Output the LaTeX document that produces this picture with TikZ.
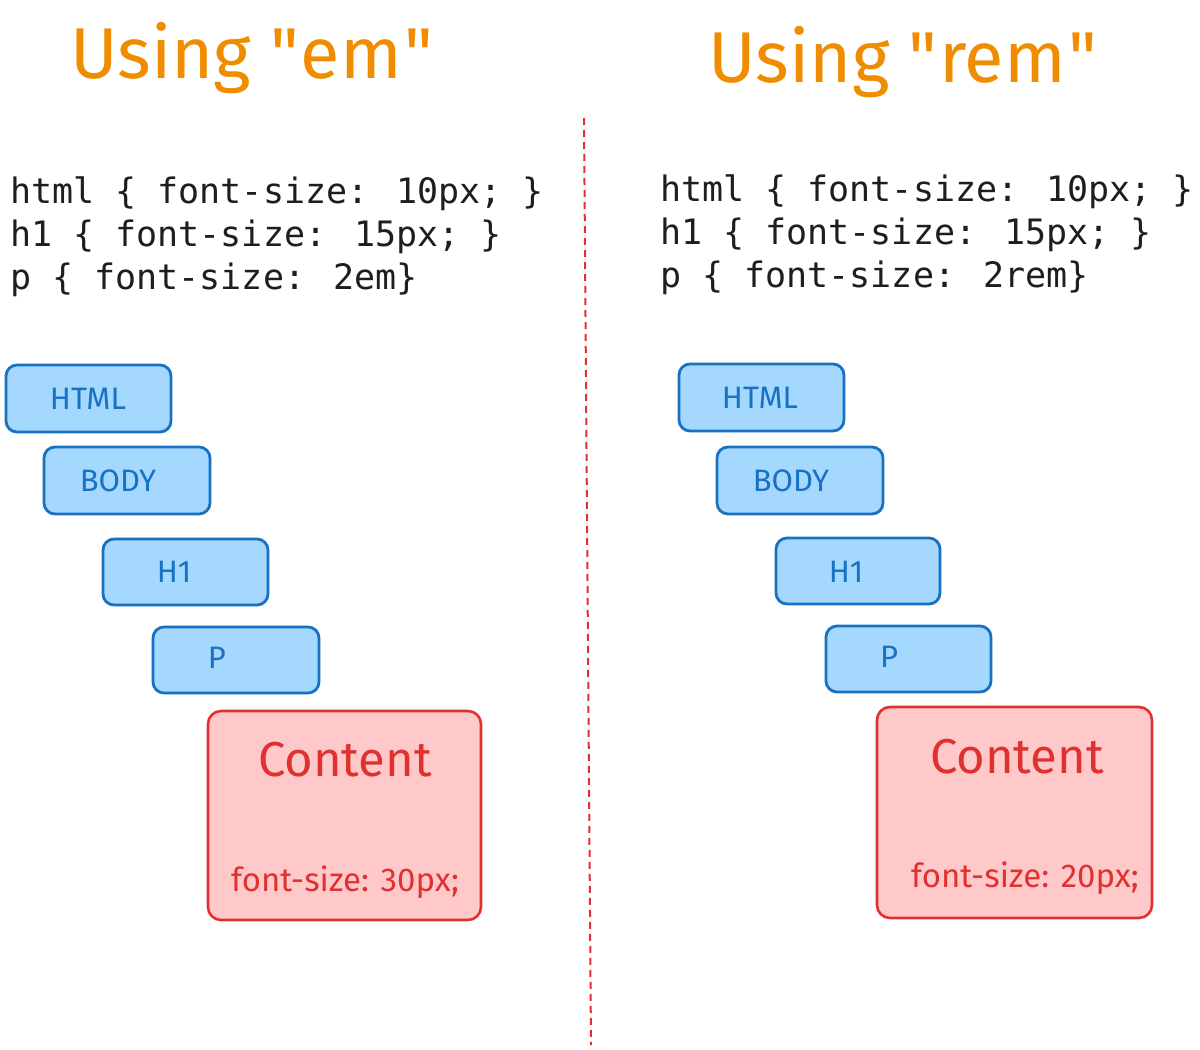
\documentclass[tikz,border=0pt]{standalone}
\usepackage{fontspec}
\setmainfont{Fira Sans}
\newfontfamily\codefont{DejaVu Sans Mono}
\newfontfamily\titlefont{Fira Sans}
\definecolor{bfill}{HTML}{A5D8FF}
\definecolor{bline}{HTML}{1971C2}
\definecolor{rfill}{HTML}{FFC9C9}
\definecolor{rline}{HTML}{E03131}
\definecolor{otitle}{HTML}{F08C00}
\definecolor{ink}{HTML}{1E1E1E}
\tikzset{
  bluebox/.style={draw=bline, fill=bfill, line width=2.8pt, rounded corners=11pt, inner sep=0pt},
  redbox/.style={draw=rline, fill=rfill, line width=2.6pt, rounded corners=13pt, inner sep=0pt},
  boxlbl/.style={text=bline, font=\fontsize{31}{34}\selectfont, inner sep=0pt},
  bigred/.style={text=rline, font=\fontsize{49}{52}\selectfont, inner sep=0pt},
  smallred/.style={text=rline, font=\fontsize{33}{36}\selectfont, inner sep=0pt},
  codeline/.style={text=ink, font=\codefont\fontsize{35}{43}\selectfont, anchor=base west, inner sep=0pt},
  titletext/.style={text=otitle, font=\titlefont\fontsize{72}{76}\selectfont, anchor=base, inner sep=0pt},
  divider/.style={draw=rline, line width=2pt, dash pattern=on 7pt off 5pt}
}
\begin{document}
\begin{tikzpicture}[x=1pt,y=-1pt]
\useasboundingbox[fill=white] (0,0) rectangle (1200,1050);
% titles
\node[titletext] (tl) at (252,78) {Using "\kern2pt em\kern3pt"};
\node[titletext] (tr) at (903,82) {Using "\kern2pt rem\kern3pt"};
% divider
\coordinate (dtop) at (584,118);
\coordinate (dbot) at (591,1045);
\draw[divider] (dtop) -- (dbot);
% code left
\node[codeline] (lc1) at (10,203) {html \{ font-size: 10px; \}};
\node[codeline] (lc2) at (10,246) {h1 \{ font-size: 15px; \}};
\node[codeline] (lc3) at (10,289) {p \{ font-size: 2em\}};
% code right
\node[codeline] (rc1) at (660,201) {html \{ font-size: 10px; \}};
\node[codeline] (rc2) at (660,244) {h1 \{ font-size: 15px; \}};
\node[codeline] (rc3) at (660,287) {p \{ font-size: 2rem\}};
% left boxes
\node[bluebox, minimum width=165pt, minimum height=67pt] (lhtml) at (88.5,398.5) {};
\node[bluebox, minimum width=166pt, minimum height=67pt] (lbody) at (127,480.5) {};
\node[bluebox, minimum width=165pt, minimum height=66pt] (lh1) at (185.5,572) {};
\node[bluebox, minimum width=166pt, minimum height=66pt] (lp) at (236,660) {};
\node[redbox, minimum width=273pt, minimum height=209pt] (lcont) at (344.5,815.5) {};
\node[boxlbl] (lhtmlt) at (88,399) {HTML};
\node[boxlbl] (lbodyt) at (118,481) {BODY};
\node[boxlbl] (lh1t) at (174,572) {H1};
\node[boxlbl] (lpt) at (217,658) {P};
\node[bigred] (lcontt) at (345,760) {Content};
\node[smallred] (lfs) at (345,882) {font-size: 30px;};
% right boxes
\node[bluebox, minimum width=165pt, minimum height=67pt] (rhtml) at (761.5,397.5) {};
\node[bluebox, minimum width=166pt, minimum height=67pt] (rbody) at (800,480.5) {};
\node[bluebox, minimum width=164pt, minimum height=66pt] (rh1) at (858,571) {};
\node[bluebox, minimum width=165pt, minimum height=66pt] (rp) at (908.5,659) {};
\node[redbox, minimum width=275pt, minimum height=211pt] (rcont) at (1014.5,812.5) {};
\node[boxlbl] (rhtmlt) at (760,398) {HTML};
\node[boxlbl] (rbodyt) at (791,481) {BODY};
\node[boxlbl] (rh1t) at (846,572) {H1};
\node[boxlbl] (rpt) at (889,657) {P};
\node[bigred] (rcontt) at (1017,757) {Content};
\node[smallred] (rfs) at (1025,878) {font-size: 20px;};
\end{tikzpicture}
\end{document}
